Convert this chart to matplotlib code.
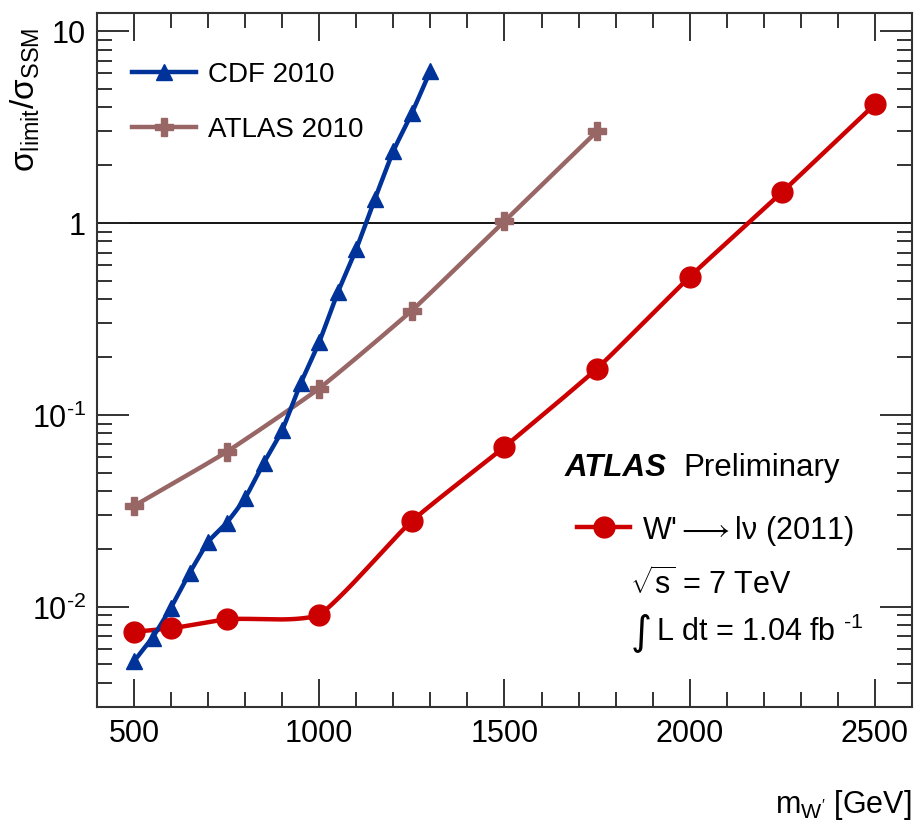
import numpy as np
import matplotlib
matplotlib.use("Agg")
import matplotlib.pyplot as plt
from matplotlib.lines import Line2D
from matplotlib.ticker import FixedLocator, MultipleLocator, LogLocator, NullFormatter

plt.rcParams['font.family'] = ['Liberation Sans', 'DejaVu Sans']
plt.rcParams['mathtext.fontset'] = 'custom'
plt.rcParams['mathtext.rm'] = 'Liberation Sans'
plt.rcParams['mathtext.it'] = 'Liberation Sans:italic'
plt.rcParams['mathtext.bf'] = 'Liberation Sans:bold'
plt.rcParams['mathtext.sf'] = 'DejaVu Sans'
plt.rcParams['axes.unicode_minus'] = False

# ---- data ----
cdf_mass = [500, 550, 600, 650, 700, 750, 800, 850, 900, 950, 1000, 1050, 1100, 1150, 1200, 1250, 1300]
cdf_ratio = [0.0052, 0.0069, 0.0099, 0.015, 0.0218, 0.0273, 0.0368, 0.056, 0.083, 0.146, 0.239,
             0.434, 0.73, 1.33, 2.37, 3.73, 6.2]
atlas10_mass = [500, 750, 1000, 1250, 1500, 1750]
atlas10_ratio = [0.0335, 0.064, 0.137, 0.349, 1.02, 3.0]
atlas11_mass = [500, 600, 750, 1000, 1250, 1500, 1750, 2000, 2250, 2500]
atlas11_ratio = [0.0074, 0.0077, 0.0086, 0.0090, 0.028, 0.068, 0.174, 0.524, 1.45, 4.15]

x_ticks = [500, 1000, 1500, 2000, 2500]
y_ticks = [0.01, 0.1, 1, 10]
y_tick_labels = [r'10$^{\text{-2}}$', r'10$^{\text{-1}}$', '1', '10']

C_CDF = '#003399'
C_A10 = '#996666'
C_A11 = '#cc0000'


def smooth_curve(xs, ys, n=60, tension=0.6):
    """Cardinal (Hermite) curve through the points in (x, log10 y) space."""
    x = np.asarray(xs, float)
    y = np.log10(np.asarray(ys, float))
    k = len(x)
    m = np.zeros(k)
    m[0] = (y[1] - y[0]) / (x[1] - x[0])
    m[-1] = (y[-1] - y[-2]) / (x[-1] - x[-2])
    for i in range(1, k - 1):
        m[i] = (y[i + 1] - y[i - 1]) / (x[i + 1] - x[i - 1])
    sec = np.diff(y) / np.diff(x)
    out_x, out_y = [], []
    for i in range(k - 1):
        h = x[i + 1] - x[i]
        m0 = (1 - tension) * m[i] + tension * sec[i]
        m1 = (1 - tension) * m[i + 1] + tension * sec[i]
        t = np.linspace(0, 1, n)
        h00 = 2 * t ** 3 - 3 * t ** 2 + 1
        h10 = t ** 3 - 2 * t ** 2 + t
        h01 = -2 * t ** 3 + 3 * t ** 2
        h11 = t ** 3 - t ** 2
        out_x.append(x[i] + t * h)
        out_y.append(h00 * y[i] + h10 * h * m0 + h01 * y[i + 1] + h11 * h * m1)
    return np.concatenate(out_x), 10 ** np.concatenate(out_y)


fig = plt.figure(figsize=(9.14, 8.28), dpi=100)
ax = fig.add_axes([0.1061, 0.1449, 0.8917, 0.8382])

ax.axhline(1.0, color='black', lw=1.3, zorder=1)

for xs, ys, c, m, ms in [(atlas11_mass, atlas11_ratio, C_A11, 'o', 15),
                         (atlas10_mass, atlas10_ratio, C_A10, 'P', 12.5),
                         (cdf_mass, cdf_ratio, C_CDF, '^', 11.5)]:
    sx, sy = smooth_curve(xs, ys)
    ax.plot(sx, sy, color=c, lw=3.2, zorder=3, solid_capstyle='butt')
    ax.plot(xs, ys, ls='none', marker=m, ms=ms, color=c, mec=c, zorder=4)

ax.set_yscale('log')
ax.set_xlim(400, 2600)
ax.set_ylim(0.003, 12.4)

ax.xaxis.set_major_locator(FixedLocator(x_ticks))
ax.xaxis.set_minor_locator(MultipleLocator(100))
ax.set_xticklabels([str(v) for v in x_ticks])
ax.yaxis.set_major_locator(FixedLocator(y_ticks))
ax.set_yticklabels(y_tick_labels)
ax.yaxis.set_minor_locator(LogLocator(base=10, subs=np.arange(2, 10)))
ax.yaxis.set_minor_formatter(NullFormatter())

ax.tick_params(which='both', direction='in', top=True, right=True, width=1.3, color='#222222')
ax.tick_params(which='major', length=20, labelsize=22, pad=8)
ax.tick_params(which='minor', length=11)
ax.tick_params(axis='y', which='major', length=23)
for s in ax.spines.values():
    s.set_linewidth(1.5)
    s.set_color('#333333')

ax.set_xlabel(r"m$_{\mathregular{W'}}$ [GeV]", fontsize=22, loc='right', labelpad=28)
ax.set_ylabel(r"σ$_{\mathregular{limit}}$/σ$_{\mathregular{SSM}}$", fontsize=24, loc='top')
ax.yaxis.set_label_coords(-0.067, 0.98)

h_cdf = Line2D([], [], color=C_CDF, lw=3.2, marker='^', ms=11.5)
h_a10 = Line2D([], [], color=C_A10, lw=3.2, marker='P', ms=12.5)
leg1 = ax.legend([h_cdf, h_a10], ['CDF 2010', 'ATLAS 2010'], loc='center left',
                 bbox_to_anchor=(0.043, 0.872), frameon=False, fontsize=20,
                 handlelength=2.3, handletextpad=0.45, labelspacing=1.05, borderaxespad=0,
                 borderpad=0)
ax.add_artist(leg1)

h_a11 = Line2D([], [], color=C_A11, lw=3.2, marker='o', ms=15)
ax.legend([h_a11], [r"W'$\longrightarrow$lν (2011)"], loc='center left',
          bbox_to_anchor=(0.589, 0.255), frameon=False, fontsize=22,
          handlelength=1.75, handletextpad=0.38, borderaxespad=0, borderpad=0)

ax.text(0.574, 0.346, 'ATLAS', transform=ax.transAxes, fontsize=22.5, fontweight='bold',
        fontstyle='italic', va='center', ha='left')
ax.text(0.719, 0.346, 'Preliminary', transform=ax.transAxes, fontsize=22.5, va='center', ha='left')
ax.text(0.654, 0.178, r"$\sqrt{\mathregular{s}}$ = 7 TeV", transform=ax.transAxes, fontsize=22,
        va='center', ha='left')
ax.text(0.655, 0.110, "∫", transform=ax.transAxes, fontsize=29, family=['DejaVu Sans'],
        va='center', ha='left')
ax.text(0.686, 0.109, r"L dt = 1.04 fb $^{\text{-1}}$", transform=ax.transAxes,
        fontsize=22, va='center', ha='left')

fig.savefig('out.png', dpi=100, facecolor='white')
